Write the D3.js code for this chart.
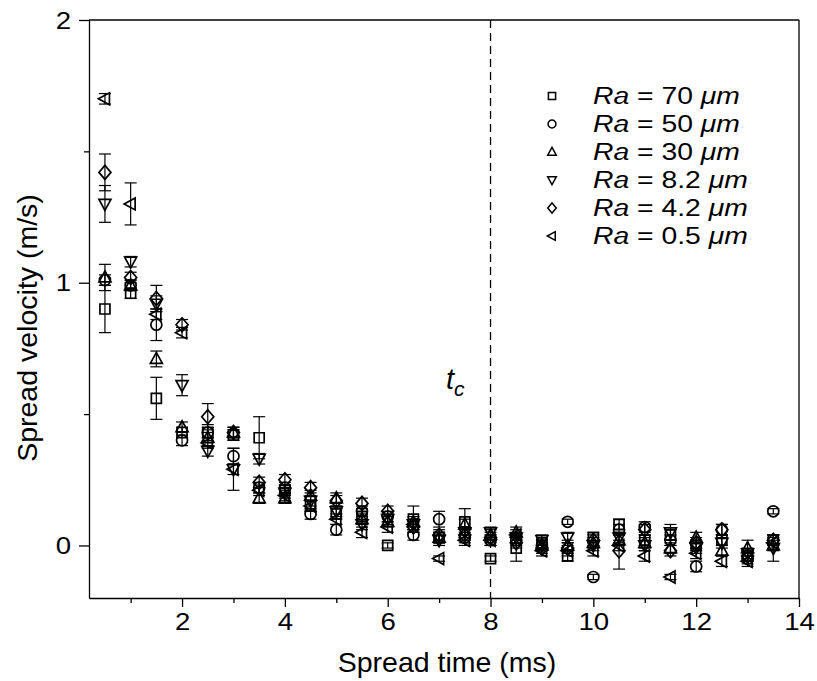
<!DOCTYPE html>
<html>
<head>
<meta charset="utf-8">
<script src="https://cdn.jsdelivr.net/npm/d3@7"></script>
<style>
  body { margin: 0; background: #fff; }
  text { font-family: "Liberation Sans", Arial, sans-serif; fill: #000; }
</style>
</head>
<body>
<svg id="chart" width="817" height="681"></svg>
<script>
// spread time (ms)
const time = [0.5, 1, 1.5, 2, 2.5, 3, 3.5, 4, 4.5, 5, 5.5, 6, 6.5, 7, 7.5, 8, 8.5, 9, 9.5, 10, 10.5, 11, 11.5, 12, 12.5, 13, 13.5]

// spread velocity (m/s) and error, one pair per roughness
const ra70 = [0.90, 0.96, 0.56, 0.43, 0.43, 0.42, 0.41, 0.21, 0.15, 0.12, 0.11, 0.00, 0.10, 0.03, 0.09, -0.05, -0.01, 0.01, -0.04, 0.03, 0.08, 0.02, 0.04, 0.00, 0.02, -0.04, 0.02]
const ra70Err = [0.09, 0.02, 0.08, 0.02, 0.02, 0.02, 0.08, 0.02, 0.02, 0.02, 0.02, 0.01, 0.05, 0.02, 0.05, 0.01, 0.05, 0.02, 0.02, 0.02, 0.02, 0.02, 0.02, 0.02, 0.02, 0.02, 0.02]
const ra50 = [1.01, 0.99, 0.84, 0.40, 0.43, 0.34, 0.22, 0.22, 0.12, 0.06, 0.13, 0.11, 0.04, 0.10, 0.03, 0.02, 0.02, 0.00, 0.09, -0.12, 0.06, 0.07, 0.02, -0.08, 0.06, -0.05, 0.13]
const ra50Err = [0.02, 0.02, 0.06, 0.02, 0.03, 0.03, 0.02, 0.02, 0.02, 0.02, 0.02, 0.02, 0.02, 0.03, 0.02, 0.02, 0.02, 0.02, 0.01, 0.01, 0.02, 0.02, 0.02, 0.02, 0.02, 0.02, 0.01]
const ra30 = [1.02, 0.99, 0.71, 0.45, 0.41, 0.43, 0.18, 0.18, 0.19, 0.18, 0.10, 0.09, 0.09, 0.03, 0.08, 0.04, 0.05, 0.00, 0.00, 0.01, 0.02, 0.01, -0.01, 0.03, -0.02, -0.01, 0.00]
const ra30Err = [0.05, 0.02, 0.03, 0.02, 0.02, 0.02, 0.02, 0.02, 0.02, 0.02, 0.02, 0.02, 0.02, 0.02, 0.02, 0.02, 0.02, 0.02, 0.02, 0.02, 0.02, 0.02, 0.02, 0.02, 0.02, 0.03, 0.02]
const ra82 = [1.30, 1.08, 0.92, 0.61, 0.36, 0.29, 0.33, 0.20, 0.17, 0.13, 0.08, 0.10, 0.08, 0.02, 0.05, 0.05, 0.03, 0.02, 0.03, 0.00, 0.03, 0.00, 0.05, -0.01, 0.01, -0.03, -0.01]
const ra82Err = [0.07, 0.02, 0.03, 0.04, 0.02, 0.02, 0.02, 0.02, 0.02, 0.02, 0.02, 0.02, 0.02, 0.02, 0.02, 0.02, 0.02, 0.02, 0.02, 0.02, 0.02, 0.02, 0.03, 0.02, 0.02, 0.02, 0.05]
const ra42 = [1.42, 1.02, 0.94, 0.84, 0.49, 0.43, 0.24, 0.25, 0.22, 0.17, 0.16, 0.13, 0.07, 0.04, 0.04, 0.03, 0.01, -0.01, -0.01, 0.02, -0.02, 0.06, -0.02, 0.01, 0.06, -0.04, 0.02]
const ra42Err = [0.07, 0.02, 0.05, 0.02, 0.05, 0.02, 0.02, 0.02, 0.02, 0.02, 0.02, 0.02, 0.02, 0.02, 0.02, 0.02, 0.02, 0.02, 0.02, 0.02, 0.07, 0.02, 0.02, 0.02, 0.02, 0.02, 0.02]
const ra05 = [1.70, 1.30, 0.88, 0.81, 0.39, 0.29, 0.21, 0.19, 0.15, 0.10, 0.05, 0.07, 0.08, -0.05, 0.02, 0.02, 0.04, -0.02, -0.02, -0.02, 0.00, -0.04, -0.12, -0.03, -0.06, -0.06, 0.01]
const ra05Err = [0.02, 0.08, 0.02, 0.02, 0.02, 0.08, 0.02, 0.02, 0.02, 0.02, 0.02, 0.02, 0.02, 0.01, 0.02, 0.02, 0.02, 0.02, 0.02, 0.02, 0.02, 0.02, 0.01, 0.02, 0.02, 0.02, 0.02]

const labels = ['70', '50', '30', '8.2', '4.2', '0.5']
const shapes = ['square', 'circle', 'up', 'down', 'diamond', 'left']
const values = [ra70, ra50, ra30, ra82, ra42, ra05]
const errors = [ra70Err, ra50Err, ra30Err, ra82Err, ra42Err, ra05Err]

const xTicks = [2, 4, 6, 8, 10, 12, 14]
const xMinor = [1, 3, 5, 7, 9, 11, 13]
const yTicks = [0, 1, 2]
const yMinor = [0.5, 1.5]
const tc = 8

const svg = d3.select('#chart')
const pLeft = 89, pRight = 799, pTop = 20, pBottom = 598
const stretch = 1.2   // the source fonts are drawn a little wide

const x = d3.scaleLinear().domain([0.19, 14]).range([pLeft, pRight])
const y = d3.scaleLinear().domain([-0.2, 2]).range([pBottom, pTop])

function shapePath(type, s) {
    // s = scale factor, base size for plot markers
    if (type === 'square') return `M${-5*s},${-5*s}h${10*s}v${10*s}h${-10*s}Z`
    if (type === 'circle') { let r = 5.5*s; return `M${-r},0a${r},${r} 0 1,0 ${2*r},0a${r},${r} 0 1,0 ${-2*r},0Z` }
    if (type === 'up') return `M0,${-6.5*s}L${6*s},${4.5*s}L${-6*s},${4.5*s}Z`
    if (type === 'down') return `M0,${6.5*s}L${6*s},${-4.5*s}L${-6*s},${-4.5*s}Z`
    if (type === 'diamond') return `M0,${-7*s}L${6*s},0L0,${7*s}L${-6*s},0Z`
    if (type === 'left') return `M${-6.5*s},0L${4.5*s},${-6*s}L${4.5*s},${6*s}Z`
}

// axes
const gx = svg.append('g').attr('transform', `translate(0,${pBottom})`)
    .call(d3.axisBottom(x).tickValues(xTicks).tickSize(9).tickSizeOuter(0).tickFormat(d3.format('d')))
svg.append('g').attr('transform', `translate(0,${pBottom})`)
    .call(d3.axisBottom(x).tickValues(xMinor).tickSize(5).tickFormat(''))
    .select('.domain').remove()
const gy = svg.append('g').attr('transform', `translate(${pLeft},0)`)
    .call(d3.axisLeft(y).tickValues(yTicks).tickSize(10).tickSizeOuter(0).tickFormat(d3.format('d')))
svg.append('g').attr('transform', `translate(${pLeft},0)`)
    .call(d3.axisLeft(y).tickValues(yMinor).tickSize(5).tickFormat(''))
    .select('.domain').remove()

svg.selectAll('.tick text').style('font-size', '23px')
gx.selectAll('.tick text').attr('y', 16).attr('dy', '0.71em').attr('transform', `scale(${stretch},1)`)
gy.selectAll('.tick text').attr('x', -18 / stretch).attr('dy', '0.35em').attr('transform', `scale(${stretch},1)`)
svg.selectAll('.domain, .tick line').attr('stroke', '#000').attr('stroke-width', 1.3)

// frame top and right
svg.append('line').attr('x1', pLeft).attr('x2', pRight).attr('y1', pTop).attr('y2', pTop).attr('stroke', '#000').attr('stroke-width', 1.3)
svg.append('line').attr('x1', pRight).attr('x2', pRight).attr('y1', pTop).attr('y2', pBottom).attr('stroke', '#000').attr('stroke-width', 1.3)

// t_c dashed line
svg.append('line').attr('x1', x(tc)).attr('x2', x(tc)).attr('y1', pTop).attr('y2', pBottom)
    .attr('stroke', '#000').attr('stroke-width', 1.3).attr('stroke-dasharray', '8,5')
const tcText = svg.append('text').attr('x', 446).attr('y', 389).style('font-size', '29px').style('font-style', 'italic')
tcText.append('tspan').text('t')
tcText.append('tspan').attr('dy', 7).style('font-size', '21px').text('c')

// axis titles
svg.append('text').attr('x', (pLeft + pRight) / 2 + 3).attr('y', 672).attr('text-anchor', 'middle')
    .style('font-size', '28.5px').text('Spread time (ms)')
svg.append('text').attr('transform', 'translate(37,328) rotate(-90)').attr('text-anchor', 'middle')
    .style('font-size', '28.5px').text('Spread velocity (m/s)')

// error bars and markers
values.forEach(function (vals, si) {
    const g = svg.append('g')
    const pts = time.map(function (t, i) { return { t: t, v: vals[i], e: errors[si][i] } })
    g.selectAll('line.err').data(pts).enter().append('line')
        .attr('x1', d => x(d.t)).attr('x2', d => x(d.t))
        .attr('y1', d => y(d.v - d.e)).attr('y2', d => y(d.v + d.e))
        .attr('stroke', '#000').attr('stroke-width', 1.2)
    g.selectAll('line.capt').data(pts).enter().append('line')
        .attr('x1', d => x(d.t) - 6).attr('x2', d => x(d.t) + 6)
        .attr('y1', d => y(d.v + d.e)).attr('y2', d => y(d.v + d.e))
        .attr('stroke', '#000').attr('stroke-width', 1.2)
    g.selectAll('line.capb').data(pts).enter().append('line')
        .attr('x1', d => x(d.t) - 6).attr('x2', d => x(d.t) + 6)
        .attr('y1', d => y(d.v - d.e)).attr('y2', d => y(d.v - d.e))
        .attr('stroke', '#000').attr('stroke-width', 1.2)
    g.selectAll('path').data(pts).enter().append('path')
        .attr('d', shapePath(shapes[si], 1))
        .attr('transform', d => `translate(${x(d.t)},${y(d.v)})`)
        .attr('fill', 'none').attr('stroke', '#000').attr('stroke-width', 1.7)
})

// legend
labels.forEach(function (lab, i) {
    const ly = 96 + i * 28
    svg.append('path').attr('d', shapePath(shapes[i], 0.72))
        .attr('transform', `translate(552,${ly})`)
        .attr('fill', 'none').attr('stroke', '#000').attr('stroke-width', 1.5)
    const t = svg.append('text').attr('transform', `translate(593,${ly + 8}) scale(1.18,1)`).style('font-size', '24px')
    t.append('tspan').style('font-style', 'italic').text('Ra')
    t.append('tspan').text(' = ' + lab + ' ')
    t.append('tspan').style('font-style', 'italic').text('\u03bcm')
})
</script>
</body>
</html>
